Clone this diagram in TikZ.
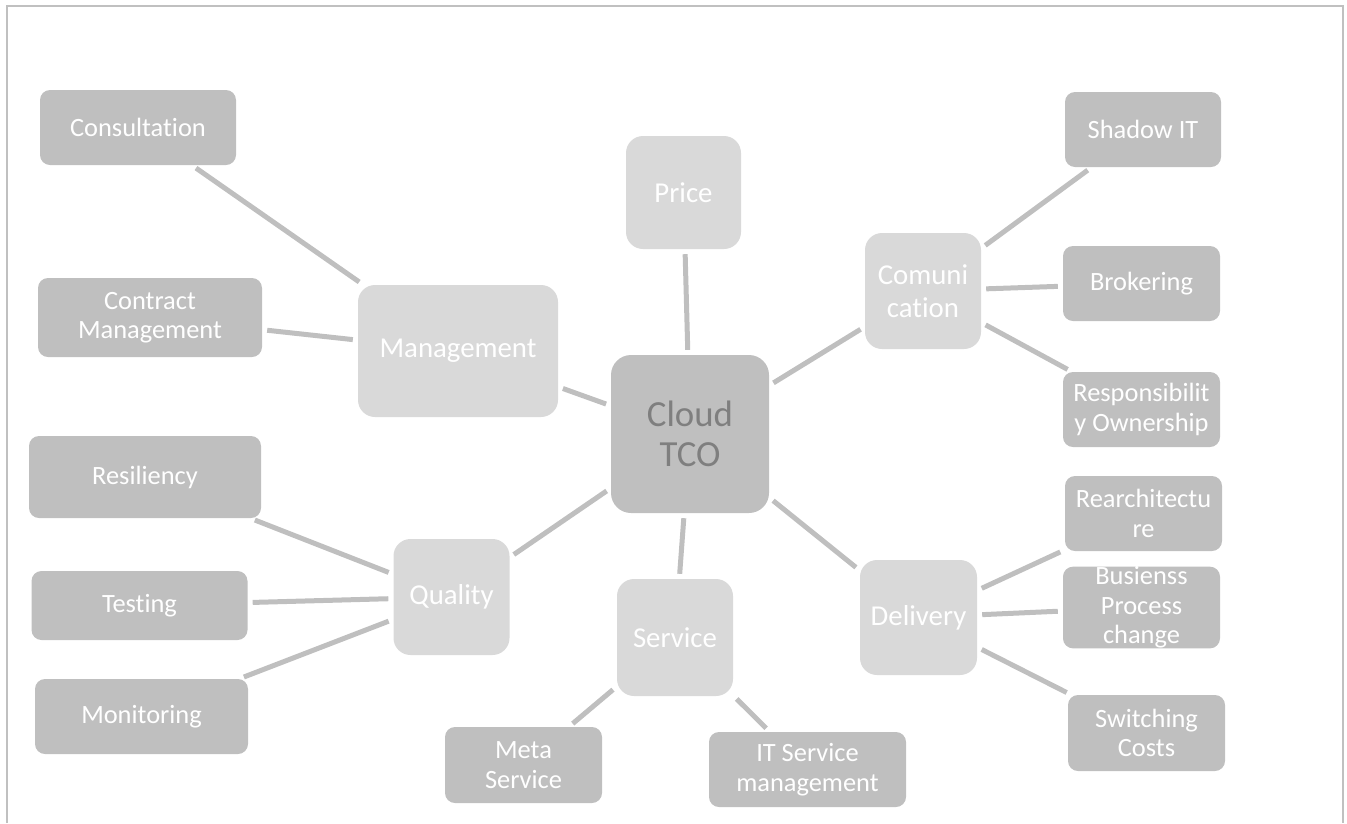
\documentclass[tikz,border=0pt]{standalone}
\usepackage{fontspec}
\setmainfont[Ligatures={NoCommon}]{Carlito}
\definecolor{darkbox}{HTML}{BFBFBF}
\definecolor{lightbox}{HTML}{D9D9D9}
\definecolor{linkcol}{HTML}{BFBFBF}
\definecolor{frame}{HTML}{C0C0C0}
\definecolor{centertext}{HTML}{7F7F7F}
\begin{document}
\begin{tikzpicture}[x=1pt,y=-1pt,
  darkbx/.style={fill=darkbox, rounded corners=10pt, inner sep=0pt, text=white, align=center,
    font=\fontsize{26.4}{29.5}\selectfont},
  lightbx/.style={fill=lightbox, rounded corners=17pt, inner sep=0pt, text=white, align=center,
    font=\fontsize{28.8}{33}\selectfont},
  centerbx/.style={fill=darkbox, rounded corners=20pt, inner sep=0pt, text=centertext, align=center,
    font=\fontsize{36.8}{40}\selectfont},
  link/.style={draw=linkcol, line width=5pt, shorten <=5pt, shorten >=5pt}]
\useasboundingbox (0,0) rectangle (1347,823);
% frame (no bottom edge)
\draw[frame, line width=2pt] (7,823) -- (7,6) -- (1343,6) -- (1343,823);

% center
\node[centerbx, minimum width=158pt, minimum height=158pt] (cloud) at (690,434) {Cloud\\TCO};

% level 1 (light)
\node[lightbx, minimum width=200pt, minimum height=132pt] (mgmt) at (458,351) {Management};
\node[lightbx, minimum width=115pt, minimum height=113pt] (price) at (683.5,192.5) {Price};
\node[lightbx, minimum width=116pt, minimum height=116pt] (comm) at (923,291) {Comuni\\cation};
\node[lightbx, minimum width=117pt, minimum height=115pt] (deliv) at (918.5,617.5) {Delivery};
\node[lightbx, minimum width=116pt, minimum height=117pt] (serv) at (675,637.5) {Service};
\node[lightbx, minimum width=116pt, minimum height=116pt] (qual) at (451.5,597) {Quality};

% level 2 (dark)
\node[darkbx, minimum width=196pt, minimum height=75pt] (consult) at (138,127.5) {Consultation};
\node[darkbx, minimum width=224pt, minimum height=79pt] (contract) at (150,317.5) {Contract\\Management};
\node[darkbx, minimum width=156pt, minimum height=75pt] (shadow) at (1143,129.5) {Shadow IT};
\node[darkbx, minimum width=157pt, minimum height=75pt] (broker) at (1141.5,283.5) {Brokering};
\node[darkbx, minimum width=157pt, minimum height=75pt] (resp) at (1141.5,409.5) {Responsibilit\\y Ownership};
\node[darkbx, minimum width=157pt, minimum height=75pt] (rearch) at (1143.5,513.5) {Rearchitectu\\re};
\node[darkbx, minimum width=157pt, minimum height=75pt] (busin) at (1141.5,607.5) {Busienss\\Process\\change};
\node[darkbx, minimum width=157pt, minimum height=76pt] (switch) at (1146.5,733) {Switching\\Costs};
\node[darkbx, minimum width=157pt, minimum height=76pt] (meta) at (523.5,765) {Meta\\Service};
\node[darkbx, minimum width=197pt, minimum height=75pt] (itsm) at (807.5,769.5) {IT Service\\management};
\node[darkbx, minimum width=232pt, minimum height=82pt] (resil) at (145,477) {Resiliency};
\node[darkbx, minimum width=216pt, minimum height=69pt] (test) at (139.5,605.5) {Testing};
\node[darkbx, minimum width=213pt, minimum height=75pt] (monit) at (141.5,716.5) {Monitoring};

% connectors
\draw[link] (consult) -- (mgmt);
\draw[link] (contract) -- (mgmt);
\draw[link] (mgmt) -- (cloud);
\draw[link] (price) -- (cloud);
\draw[link] (cloud) -- (comm);
\draw[link] (comm) -- (shadow);
\draw[link] (comm) -- (broker);
\draw[link] (comm) -- (resp);
\draw[link] (cloud) -- (deliv);
\draw[link] (deliv) -- (rearch);
\draw[link] (deliv) -- (busin);
\draw[link] (deliv) -- (switch);
\draw[link] (cloud) -- (serv);
\draw[link] (serv) -- (meta);
\draw[link] (serv) -- (itsm);
\draw[link] (cloud) -- (qual);
\draw[link] (qual) -- (resil);
\draw[link] (qual) -- (test);
\draw[link] (qual) -- (monit);
\end{tikzpicture}
\end{document}
